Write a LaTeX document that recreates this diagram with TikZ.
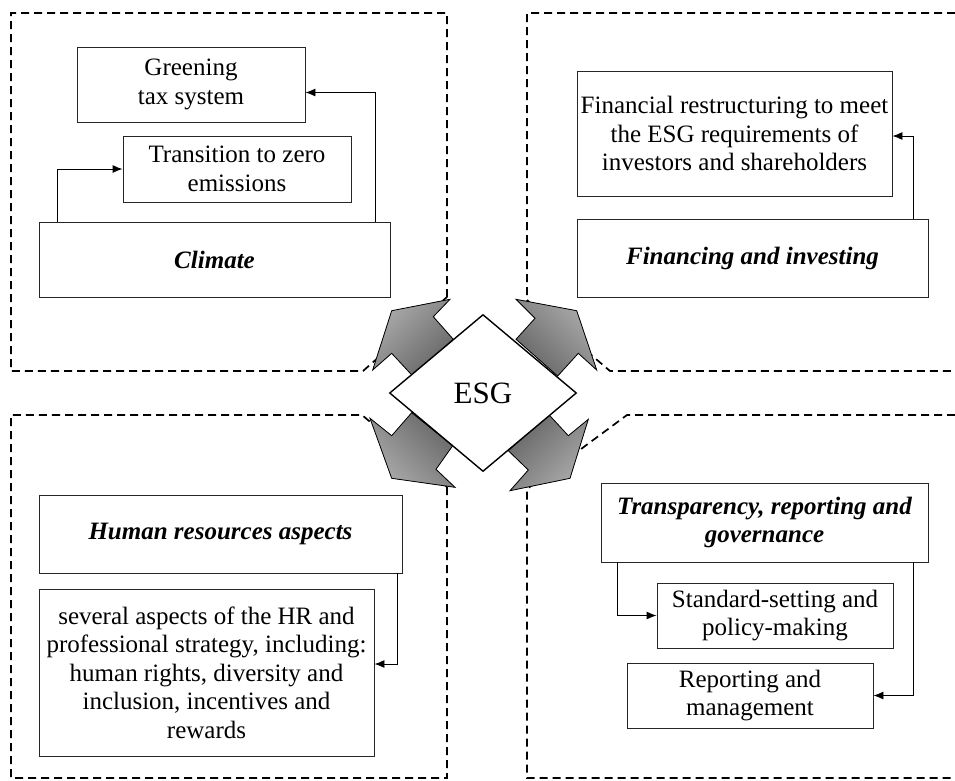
\documentclass[tikz,border=0pt]{standalone}
\usepackage{fontspec}
\setmainfont{Liberation Serif}
\usepackage{tikz}
\usetikzlibrary{shapes.geometric}
\usetikzlibrary{arrows.meta}

\begin{document}
\begin{tikzpicture}[x=1pt,y=-1pt,
	txtbox/.style={draw=black!85,line width=0.9pt,align=center,inner sep=2pt,font=\fontsize{25}{28.5}\selectfont},
	headbox/.style={txtbox,font=\fontsize{25}{28.5}\selectfont\bfseries\itshape},
	frame/.style={dash pattern=on 8pt off 5pt,line width=1.7pt},
	link/.style={->,>={Latex[length=10pt,width=8pt]},line width=0.9pt},
	blockarrow/.style={draw=black,line width=0.8pt,top color=black!33,bottom color=black!60}]
	\useasboundingbox (0,0) rectangle (955,780);
	%% frames
	\draw[frame] (447,297) -- (447,13) -- (11,13) -- (11,371) -- (363,371) -- cycle;
	\draw[frame] (955,13) -- (527,13) -- (527,300) -- (610,371) -- (955,371);
	\draw[frame] (447,487) -- (447,778) -- (11,778) -- (11,415) -- (362,415) -- cycle;
	\draw[frame] (955,415) -- (627,415) -- (527,489) -- (527,778) -- (955,778);
	%% arrows round ESG
	\filldraw[blockarrow,shading angle=45] (450,299.3) -- (391.7,310.7) -- (372.7,370) -- (391.7,353.3) -- (412.7,376) -- (453.3,339.3) -- (433.3,316.7) -- cycle;
	\filldraw[blockarrow,shading angle=-45] (516,299.3) -- (576.7,310.7) -- (596.7,370) -- (578.3,353.3) -- (557.7,376) -- (516,339.3) -- (535,318.3) -- cycle;
	\filldraw[blockarrow,shading angle=135] (370,418.3) -- (391.7,478.3) -- (455,487.3) -- (436,469.3) -- (452.7,445.7) -- (411.7,412.7) -- (391.7,435.7) -- cycle;
	\filldraw[blockarrow,shading angle=-135] (588.3,419.3) -- (570,478.3) -- (510,490.7) -- (528.3,470) -- (508.3,450.7) -- (548.3,414) -- (568.3,435.7) -- cycle;
	\node[diamond,draw=black,line width=1.4pt,fill=white,aspect=1.19,minimum width=187pt,minimum height=157pt,inner sep=0pt,font=\fontsize{31}{34}\selectfont] (esg) at (483,393) {ESG};
	%% climate
	\node[txtbox,minimum width=228pt,minimum height=75pt] (green) at (191,84.5) {Greening\\tax system};
	\node[txtbox,minimum width=228pt,minimum height=66pt] (zero) at (237,169) {Transition to zero\\emissions};
	\node[headbox,minimum width=351pt,minimum height=75pt] (climate) at (214.5,259.5) {Climate};
	%% financing
	\node[txtbox,minimum width=315pt,minimum height=125pt] (restruct) at (734.5,133.5) {Financial restructuring to meet\\the ESG requirements of\\investors and shareholders};
	\node[headbox,minimum width=351pt,minimum height=78pt] (finance) at (752.5,258) {Financing and investing};
	%% human resources
	\node[headbox,minimum width=363pt,minimum height=78pt] (hr) at (220.5,534) {Human resources aspects};
	\node[txtbox,minimum width=335pt,minimum height=167pt] (hraspects) at (206.5,672.5) {several aspects of the HR and\\professional strategy, including:\\human rights, diversity and\\inclusion, incentives and\\rewards};
	%% transparency
	\node[headbox,minimum width=327pt,minimum height=79pt] (transp) at (764.5,522.5) {Transparency, reporting and\\governance};
	\node[txtbox,minimum width=236pt,minimum height=65pt] (standard) at (775,615.5) {Standard-setting and\\policy-making};
	\node[txtbox,minimum width=246pt,minimum height=65pt] (report) at (750,695.5) {Reporting and\\management};
	%% links
	\draw[link] ([xshift=19pt]climate.north west) |- (zero.west);
	\draw[link] ([xshift=-15pt]climate.north east) |- ([yshift=-8pt]green.east);
	\draw[link] ([xshift=-15pt]finance.north east) |- ([yshift=-2.5pt]restruct.east);
	\draw[link] ([xshift=-5pt]hr.south east) |- ([yshift=8.5pt]hraspects.east);
	\draw[link] ([xshift=17pt]transp.south west) |- (standard.west);
	\draw[link] ([xshift=-15pt]transp.south east) |- (report.east);
\end{tikzpicture}
\end{document}
